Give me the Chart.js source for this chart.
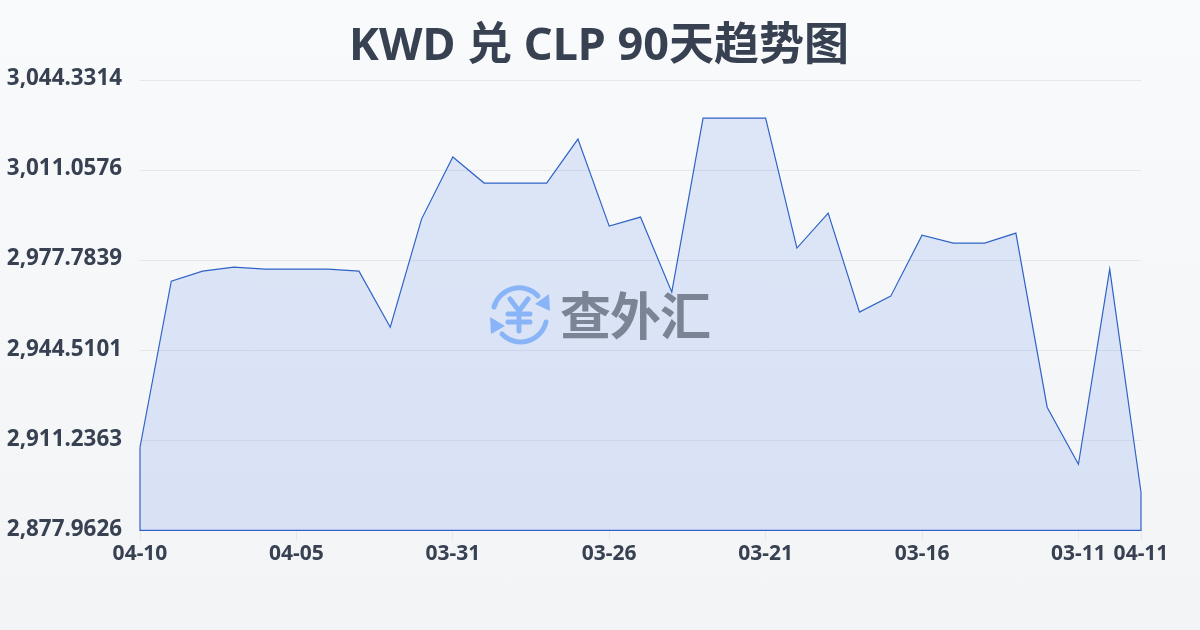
<!DOCTYPE html>
<html>
<head>
<meta charset="utf-8">
<style>
  html, body { margin: 0; padding: 0; }
  body { width: 1200px; height: 630px; overflow: hidden; position: relative; background: linear-gradient(180deg, #f9fafb 0%, #f3f4f6 100%); }
  #wrap { position: absolute; left: 0; top: 0; width: 1200px; height: 630px; }
  #title { position: absolute; left: -1px; top: 13px; width: 1200px; text-align: center; font: 700 45px/60px "Noto Sans", "Noto Sans CJK SC", sans-serif; color: #374151; }
  #mark { position: absolute; left: 488px; top: 284px; display: flex; align-items: center; z-index: 2; }
  #mark span { font: 700 51px "Noto Sans CJK SC", sans-serif; color: #7b8494; letter-spacing: -1px; margin-left: 8px; line-height: 60px; position: relative; top: -2px; }
</style>
</head>
<body>
<div id="wrap"><canvas id="chart" width="1200" height="630"></canvas></div>
<div id="title"></div>
<div id="mark">
  <svg width="64" height="62" viewBox="0 0 64 62" fill="none" stroke="#8ab4f8" stroke-linecap="round" stroke-linejoin="round">
    <path d="M6 23 A26 26 0 0 1 50 12" stroke-width="5"/>
    <path d="M58 38 A26 26 0 0 1 14 50" stroke-width="5"/>
    <path d="M62 27 L61 10 L47 20 Z" fill="#8ab4f8" stroke="none"/>
    <path d="M2 33 L3 50 L17 42 Z" fill="#8ab4f8" stroke="none"/>
    <path d="M22 15 L31 27 L40 15 M20 30 H42 M20 38 H42 M31 27 V47" stroke-width="5"/>
  </svg>
  <span>查外汇</span>
</div>
<script src="https://cdn.jsdelivr.net/npm/chart.js@4/dist/chart.umd.min.js"></script>
<script>
const categories = ['04-10','04-09','04-08','04-07','04-06','04-05','04-04','04-03','04-02','04-01','03-31',
  '03-30','03-29','03-28','03-27','03-26','03-25','03-24','03-23','03-22','03-21',
  '03-20','03-19','03-18','03-17','03-16','03-15','03-14','03-13','03-12','03-11','03-10','04-11'];
const rates = [2908.65,2970.02,2973.72,2975.19,2974.45,2974.45,2974.45,2973.72,2953.01,2992.94,3015.86,
  3006.25,3006.25,3006.25,3022.52,2990.35,2993.68,2965.95,3030.28,3030.28,3030.28,
  2982.22,2995.16,2958.56,2964.47,2987.02,2984.07,2984.07,2987.76,2923.44,2902.36,2974.45,2892.01];
const xTickLabels = ['04-10','04-05','03-31','03-26','03-21','03-16','03-11','04-11'];
const yTicks = [2877.9626,2911.2363,2944.5101,2977.7839,3011.0576,3044.3314];
const yTickLabels = ['2,877.9626','2,911.2363','2,944.5101','2,977.7839','3,011.0576','3,044.3314'];
const titleText = 'KWD 兑 CLP 90天趋势图';

const lineColor = '#2f63c8';
const textColor = '#374151';

document.getElementById('title').textContent = titleText;

// outline down the two sides and along the bottom of the area
const frame = [
  { x: categories[0], y: rates[0] },
  { x: categories[0], y: yTicks[0] },
  { x: categories[categories.length - 1], y: yTicks[0] },
  { x: categories[categories.length - 1], y: rates[rates.length - 1] }
];

new Chart(document.getElementById('chart').getContext('2d'), {
  type: 'line',
  data: {
    labels: categories,
    datasets: [{
      data: rates,
      borderColor: lineColor,
      borderWidth: 1.2,
      backgroundColor: 'rgba(37, 99, 235, 0.13)',
      fill: 'start',
      pointRadius: 0,
      tension: 0,
      clip: 4
    }, {
      data: frame,
      borderColor: lineColor,
      borderWidth: 1.2,
      pointRadius: 0,
      fill: false,
      tension: 0,
      clip: 4
    }]
  },
  options: {
    responsive: false,
    animation: false,
    layout: { padding: { top: 80, right: 59, bottom: 62.5, left: 0 } },
    plugins: {
      legend: { display: false },
      tooltip: { enabled: false }
    },
    scales: {
      x: {
        type: 'category',
        offset: false,
        border: { display: false },
        grid: { drawOnChartArea: false, tickLength: 10, tickColor: '#e5e7eb' },
        afterBuildTicks: (axis) => {
          axis.ticks = axis.ticks.filter(t => xTickLabels.includes(categories[t.value]));
        },
        ticks: {
          autoSkip: false,
          maxRotation: 0,
          padding: 1,
          color: textColor,
          font: { family: '"Noto Sans", sans-serif', size: 21, weight: 'bold' }
        }
      },
      y: {
        min: yTicks[0],
        max: yTicks[yTicks.length - 1],
        border: { display: false },
        grid: { color: '#e5e7eb', lineWidth: 1, drawTicks: false },
        afterBuildTicks: (axis) => {
          axis.ticks = yTicks.map(v => ({ value: v }));
        },
        afterFit: (axis) => { axis.width = 140; },
        ticks: {
          padding: 18,
          labelOffset: -1,
          color: textColor,
          font: { family: '"Noto Sans", sans-serif', size: 22.4, weight: 'bold' },
          callback: (value) => yTickLabels[yTicks.indexOf(value)]
        }
      }
    }
  }
});
</script>
</body>
</html>
